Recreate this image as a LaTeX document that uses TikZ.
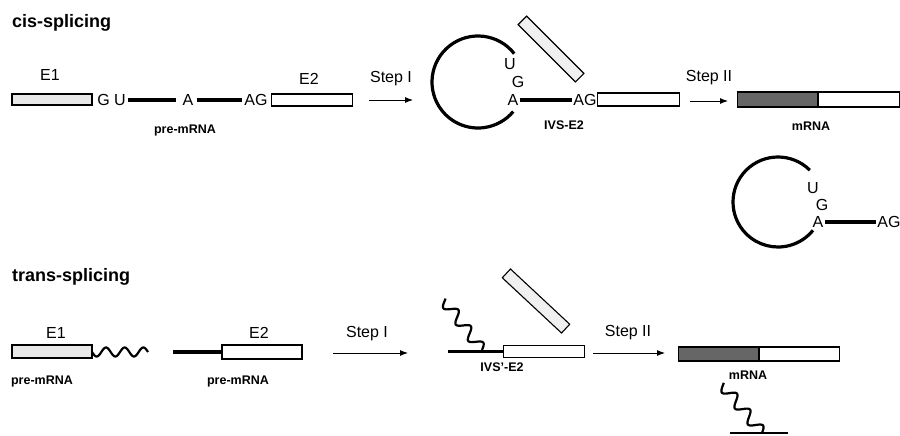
\documentclass[tikz,border=0pt]{standalone}
\usepackage{fontspec}
\setmainfont{Liberation Sans}
\usetikzlibrary{arrows.meta}
\begin{document}
\begin{tikzpicture}[x=1pt,y=-1pt,
 title/.style={font=\fontsize{18}{20}\selectfont\bfseries, anchor=base west, inner sep=0pt},
 lbl/.style={font=\fontsize{16}{18}\selectfont, inner sep=0pt},
 small/.style={font=\fontsize{12.5}{14}\selectfont\bfseries, inner sep=0pt},
 boxbase/.style={draw, line width=1.1pt, inner sep=0pt},
 exonA/.style={boxbase, fill=gray!18},
 exonB/.style={boxbase, fill=white},
 mdark/.style={boxbase, fill=black!60},
 intron/.style={line width=3.2pt},
 rna/.style={line width=2.2pt},
 steparrow/.style={line width=0.9pt, -{Latex[length=8pt,width=6pt]}},
 excised/.style={boxbase, fill=gray!12, minimum width=81pt, minimum height=12pt},
]
\useasboundingbox (0,0) rectangle (900,436);

% ---------------- cis-splicing ----------------
\node[title] (t1) at (12,28) {cis-splicing};
\node[lbl] (e1l) at (50,75) {E1};
\node[exonA, minimum width=80pt, minimum height=11pt] (e1) at (52,99.5) {};
\node[lbl] (gu) at (111.5,100) {G U};
\node[lbl] (a1) at (188,100) {A};
\node[lbl] (ag1) at (256,100) {AG};
\node[exonB, minimum width=81pt, minimum height=12pt, anchor=west] (e2) at (271,100) {};
\node[lbl] (e2l) at (309,79) {E2};
\node[small] (pm1) at (185,130) {pre-mRNA};
\draw[intron, shorten <=2pt, shorten >=6pt] (gu) -- (a1);
\draw[intron, shorten <=3pt, shorten >=2pt] (a1) -- (ag1);

\node[lbl] (s1) at (391,79) {Step I};
\coordinate (s1a) at (369,100);
\coordinate (s1b) at (413,100);
\draw[steparrow] (s1a) -- (s1b);

\coordinate (c1) at (478,82);
\draw[intron] ([shift={(38:46pt)}]c1) arc[start angle=38, end angle=320, radius=46pt];
\node[lbl] (u1) at (510,64) {U};
\node[lbl] (g1) at (518,82) {G};
\node[lbl] (a2) at (513,100) {A};
\node[lbl] (ag2) at (585,100) {AG};
\draw[intron, shorten <=1pt, shorten >=1pt] (a2) -- (ag2);
\node[exonB, minimum width=82pt, minimum height=13pt, anchor=west] (e2b) at (597,99.5) {};
\node[excised, fill=gray!12, rotate=-45] (x1) at (551,49) {};
\node[small] (ivs1) at (564,125) {IVS-E2};

\node[lbl] (s2) at (709,78) {Step II};
\coordinate (s2a) at (690,101);
\coordinate (s2b) at (728,101);
\draw[steparrow] (s2a) -- (s2b);
\node[mdark, minimum width=80pt, minimum height=15pt, anchor=west] (m1) at (737,99.5) {};
\node[exonB, minimum width=81pt, minimum height=15pt, anchor=west] (m2) at (m1.east) {};
\node[small] (ml1) at (811,126) {mRNA};

\coordinate (c2) at (778,202);
\draw[intron] ([shift={(45:45pt)}]c2) arc[start angle=45, end angle=321, radius=45pt];
\node[lbl] (u2) at (813,188) {U};
\node[lbl] (g2) at (822,205) {G};
\node[lbl] (a3) at (818,222) {A};
\node[lbl] (ag3) at (889,222) {AG};
\draw[intron, shorten <=1pt, shorten >=1pt] (a3) -- (ag3);

% ---------------- trans-splicing ----------------
\node[title] (t2) at (12,281) {trans-splicing};
\node[lbl] (te1l) at (56,333) {E1};
\node[exonA, minimum width=80pt, minimum height=13pt] (te1) at (52,351.5) {};
\draw[rna] plot[domain=0:56, samples=90, smooth] ({92+\x},{352+4.5*sin(19.2857*\x)});
\node[small] (pm2) at (42,381) {pre-mRNA};

\node[lbl] (te2l) at (259,333) {E2};
\node[exonB, minimum width=80pt, minimum height=14pt] (te2) at (262,352) {};
\coordinate (tl1) at (173,352);
\draw[intron] (tl1) -- (te2.west);
\node[small] (pm3) at (238,381) {pre-mRNA};

\node[lbl] (s3) at (367,334) {Step I};
\coordinate (s3a) at (333,353);
\coordinate (s3b) at (408,353);
\draw[steparrow] (s3a) -- (s3b);

\node[exonB, minimum width=81pt, minimum height=12.5pt, anchor=west] (te3) at (503,351.5) {};
\coordinate (tl2) at (448,351.5);
\draw[intron] (tl2) -- (te3.west);
\draw[rna] plot[domain=0:63, samples=100, smooth] ({482-0.605*\x+4.4*sin(17.5*\x)},{350-0.796*\x-3.3*sin(17.5*\x)});
\node[excised, rotate=-43] (x2) at (536,301) {};
\node[small] (ivs2) at (502,367) {IVS'-E2};

\node[lbl] (s4) at (628,333) {Step II};
\coordinate (s4a) at (593,353);
\coordinate (s4b) at (665,353);
\draw[steparrow] (s4a) -- (s4b);
\node[mdark, minimum width=80pt, minimum height=14pt, anchor=west] (m3) at (678,354) {};
\node[exonB, minimum width=80pt, minimum height=14pt, anchor=west] (m4) at (m3.east) {};
\node[small] (ml2) at (748,375) {mRNA};

\coordinate (bl1) at (730,433);
\coordinate (bl2) at (788,433);
\draw[line width=2pt] (bl1) -- (bl2);
\draw[rna] plot[domain=0:63, samples=100, smooth] ({762-0.633*\x+4.3*sin(17.5*\x)},{433-0.775*\x-3.5*sin(17.5*\x)});
\end{tikzpicture}
\end{document}
